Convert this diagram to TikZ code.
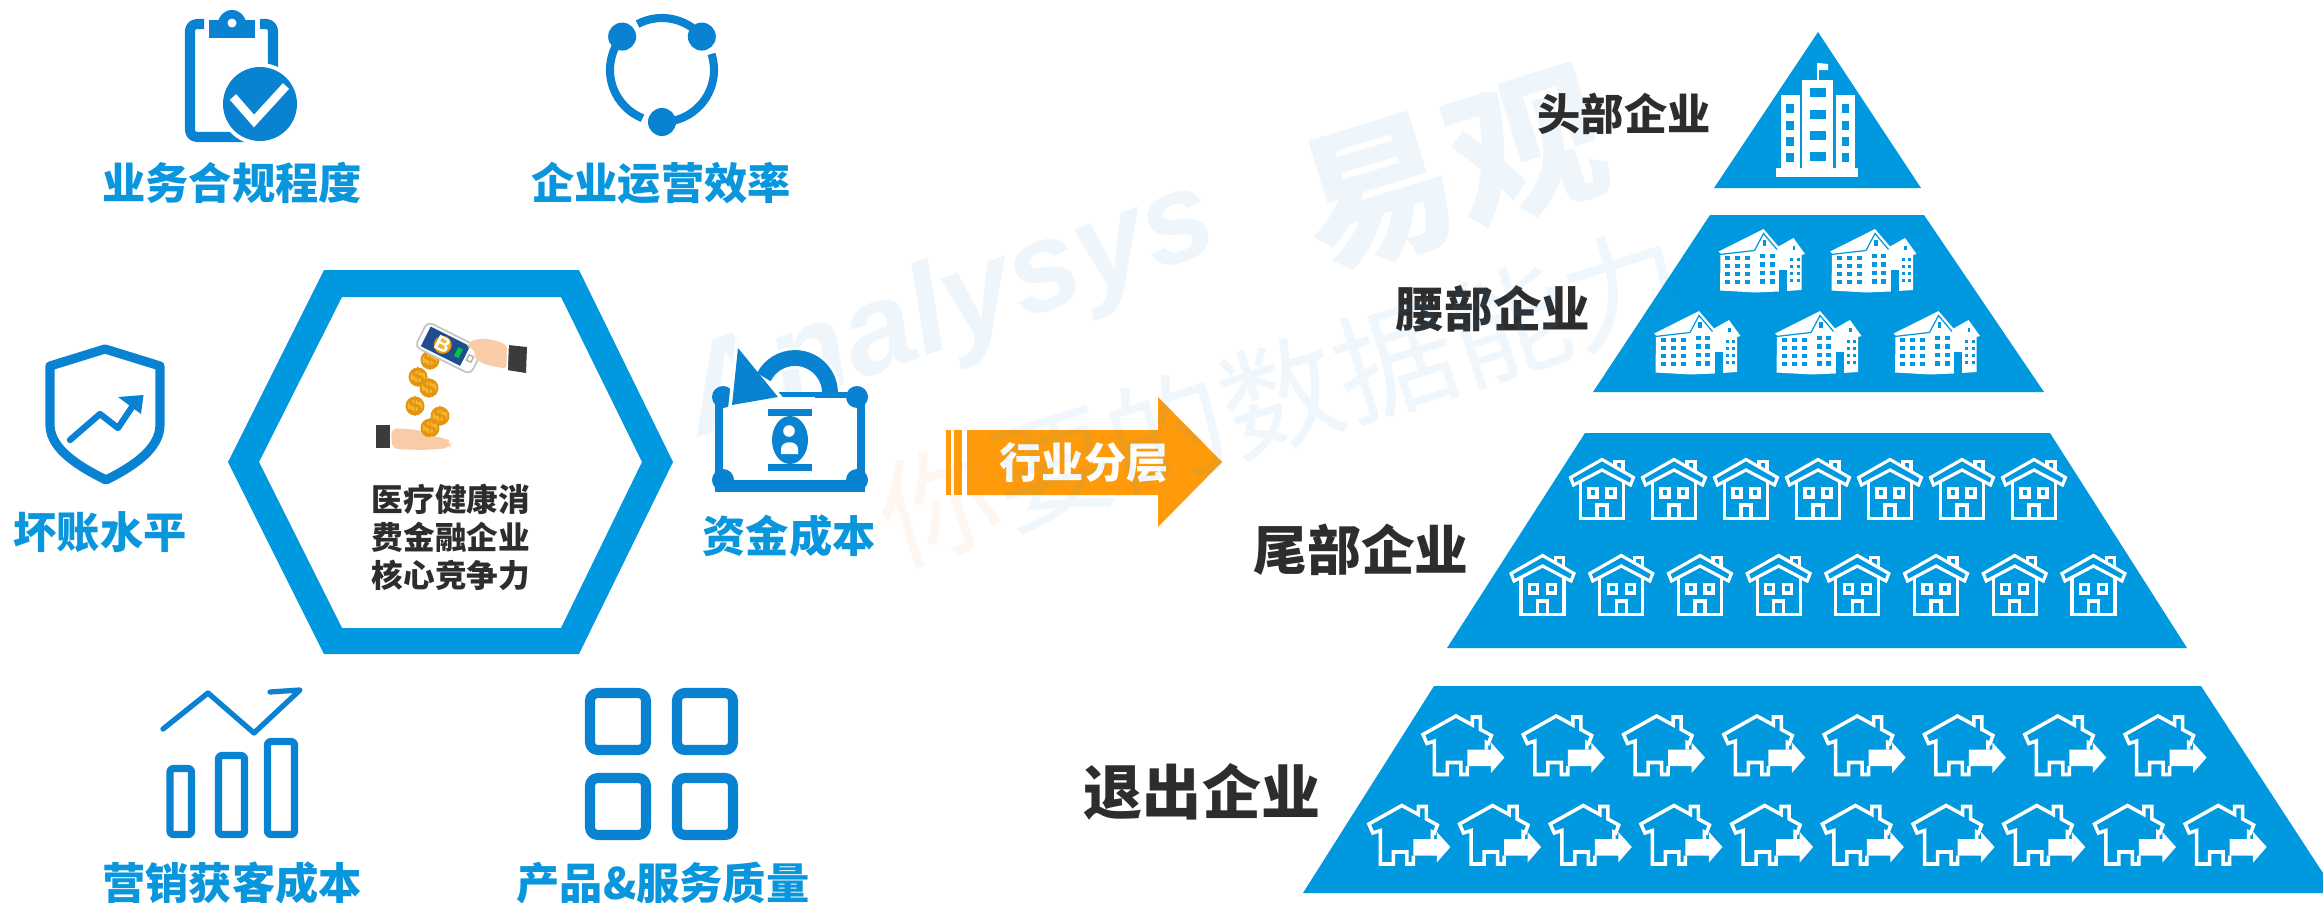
\documentclass[tikz,border=0pt]{standalone}
\usepackage{fontspec}
\newfontfamily\cjk{Noto Sans CJK SC}
\newfontfamily\latinwm{Liberation Sans}
\usetikzlibrary{calc}
\definecolor{hexblue}{HTML}{0098DF}
\definecolor{iconblue}{HTML}{0A82D2}
\definecolor{labelblue}{HTML}{0A96DC}
\definecolor{darktext}{HTML}{2D2D2D}
\definecolor{arroworange}{HTML}{FF9B0A}
\definecolor{skin}{HTML}{F9CBA7}
\definecolor{cuff}{HTML}{3A3B3D}
\definecolor{coin}{HTML}{F7B52C}
\definecolor{coinedge}{HTML}{E39410}
\definecolor{screen}{HTML}{1E4E8E}
\definecolor{wmblue}{HTML}{3C9BDC}
\definecolor{wmorange}{HTML}{F39A55}
\tikzset{
  lbl/.style={font=\cjk\bfseries\fontsize{12.3pt}{14pt}\selectfont, text=labelblue, inner sep=0pt},
  tier/.style={font=\cjk\bfseries\fontsize{#1}{#1}\selectfont, text=darktext, inner sep=0pt},
  iconline/.style={draw=iconblue, line width=#1, line join=round, line cap=round},
  coinpic/.pic={
    \fill[coinedge] (0,0) circle[radius=9.5];
    \fill[coin] (0,0) circle[radius=7.5];
    \node[font=\latinwm\bfseries\fontsize{7pt}{7pt}\selectfont, text=coinedge, inner sep=0pt] {\$};
  },
  apt/.pic={
    \fill[white] (-43,-9) -- (-3,-29) -- (2,-31.5) -- (17,-14) -- (32,-22.5) -- (43.5,-6.5) -- (40,-5.5)
      -- (40,29.5) -- (17,31) -- (-6.5,32) -- (-41.5,30) -- (-41,-7) -- cycle;
    \draw[hexblue, line width=0.35pt] (-7,-10) -- (2,-27) -- (15.5,-11);
    \draw[hexblue, line width=0.35pt] (-42,-6) -- (-7,-10);
    \foreach \x in {-36.5,-26.5,-16.5}
      \foreach \y in {-5,3,11,19}
        \fill[hexblue] (\x,\y) rectangle ++(5,4.5);
    \foreach \x in {-1.5,8}
      \foreach \y in {-7,1.5,10,18.5}
        \fill[hexblue] (\x,\y) rectangle ++(5,4.5);
    \foreach \x in {28.5,35}
      \foreach \y in {-3,4,11,18}
        \fill[hexblue] (\x,\y) rectangle ++(3,3.5);
    \fill[hexblue] (17.5,9.5) rectangle (25.5,31.5);
    \fill[hexblue] (1,-21) rectangle (4.5,-15);
    \fill[hexblue] (31,-14.5) rectangle (33.5,-10.5);
  },
  house/.pic={
    \draw[white, line width=0.9pt, line join=miter]
      (-31.5,-11) -- (0,-29) -- (31.5,-11) -- (28.5,-3.5) -- (0,-18.5) -- (-28.5,-3.5) -- cycle;
    \draw[white, line width=0.9pt] (13,-21.5) -- (13,-27) -- (21,-27) -- (21,-16.5);
    \draw[white, line width=0.9pt] (-21.5,-7) -- (-21.5,30) -- (21.5,30) -- (21.5,-7);
    \draw[white, line width=0.9pt] (-13,0) rectangle (-5,8.5) (5,0) rectangle (13,8.5);
    \draw[white, line width=0.9pt] (-5,30) -- (-5,16.5) -- (5,16.5) -- (5,30);
  },
  exith/.pic={
    \draw[white, line width=1pt, line join=miter]
      (3.5,20.5) -- (3.5,29) -- (-3,29) -- (-3,17) -- (-16.5,17) -- (-16.5,29) -- (-29.5,29)
      -- (-29.5,-4.5) -- (-37,-2) -- (-41,-11) -- (-8,-29.5) -- (8.5,-20.5) -- (8.5,-28.5)
      -- (16.5,-28.5) -- (16.5,-16) -- (27.5,-10) -- (24.5,-2) -- (22.5,-3) -- (22.5,4);
    \fill[white] (3.5,4) -- (27,4) -- (27,-3) -- (40.5,12) -- (27,27.5) -- (27,20.5) -- (3.5,20.5) -- cycle;
  }
}
\begin{document}
\begin{tikzpicture}[x=0.01cm, y=-0.01cm]
\useasboundingbox (0,0) rectangle (2323,903);
\clip (0,0) rectangle (2323,903);
\fill[white] (0,0) rectangle (2323,903);

% ---------- faint brand marks (behind the drawing) ----------
\begin{scope}[opacity=0.085]
  \node[rotate=20, font=\latinwm\bfseries\itshape\fontsize{36pt}{36pt}\selectfont, text=wmblue, inner sep=0pt]
    (brand) at (950,312) {Analysys};
  \node[rotate=17, font=\cjk\bfseries\fontsize{44pt}{44pt}\selectfont, text=wmblue, inner sep=0pt]
    (brandcn) at (1452,172) {易观};
\end{scope}

% ---------- central hexagon ----------
\fill[hexblue, even odd rule]
  (324,270) -- (579,270) -- (673,462) -- (579,654) -- (324,654) -- (228,462) -- cycle
  (342,297) -- (561,297) -- (642,462) -- (561,628) -- (342,628) -- (259,462) -- cycle;

% money illustration: coins, phone and hands
\pic at (430,360) {coinpic};
\begin{scope}[shift={(449,348)}, rotate=-26.6]
  \fill[white, draw=gray!45, line width=0.5pt, rounded corners=1.5pt] (-31,-14) rectangle (31,14);
  \fill[screen] (-26,-11) rectangle (18,11);
  \fill[coinedge] (-7,0) circle[radius=9];
  \fill[coin] (-7,0) circle[radius=7.2];
  \node[font=\latinwm\bfseries\fontsize{6pt}{6pt}\selectfont, text=white, inner sep=0pt, rotate=-26.6] (btc) at (-7,0) {B};
  \fill[green!55!teal] (8,-5) rectangle (13,5);
  \draw[gray!60, line width=0.4pt] (21,-3) rectangle (26,3);
\end{scope}
\fill[skin, rounded corners=2pt] (466,343) -- (480,338) -- (495,340) -- (509,346) -- (509,369) -- (496,367)
  -- (483,364) -- (472,357) -- (478,351) -- (469,349) -- cycle;
\fill[cuff] (508,345) -- (527,347) -- (526,373) -- (507,370) -- cycle;
\draw[white, line width=0.5pt] (508,345) -- (507,370);
\pic at (418,377) {coinpic};
\pic at (429,388) {coinpic};
\pic at (415,406) {coinpic};
\pic at (440,416) {coinpic};
\fill[cuff] (376,425) rectangle (390,448);
\fill[skin, rounded corners=2pt] (391,428) -- (420,430) -- (434,437) -- (446,438) -- (452,443) -- (450,448)
  -- (425,450) -- (392,449) -- cycle;
\pic at (430,428) {coinpic};
\fill[skin, rounded corners=1.5pt] (426,436) -- (440,437) -- (441,441) -- (428,442) -- cycle;

\node[font=\cjk\bfseries\fontsize{9pt}{10.8pt}\selectfont, text=darktext, align=center, inner sep=0pt]
  (core) at (451,537) {医疗健康消\\费金融企业\\核心竞争力};

% ---------- clipboard icon ----------
\draw[iconline=2.85pt, line cap=butt, rounded corners=2pt]
  (204,24) -- (190,24) -- (190,137) -- (273,137) -- (273,24) -- (260,24);
\fill[iconblue] (209,20) rectangle (255,38);
\fill[iconblue] (232,24) circle[radius=14];
\fill[white] (232,23) circle[radius=4.5];
\fill[white] (260,104) circle[radius=41];
\fill[iconblue] (260,104) circle[radius=37];
\draw[white, line width=2.4pt, line join=miter] (233,97) -- (254,121) -- (286,86);
\node[lbl] (compliance) at (232,183) {业务合规程度};

% ---------- cycle icon ----------
\draw[iconline=2.3pt, line cap=butt] (662,70) ++(242:52) arc[start angle=242, end angle=320, radius=52];
\draw[iconline=2.3pt, line cap=butt] (662,70) ++(342:52) arc[start angle=342, end angle=450, radius=52];
\draw[iconline=2.3pt, line cap=butt] (662,70) ++(220:52) arc[start angle=220, end angle=112, radius=52];
\fill[iconblue] (662,70) ++(220:52) circle[radius=14];
\fill[iconblue] (662,70) ++(320:52) circle[radius=14];
\fill[iconblue] (662,70) ++(90:52) circle[radius=14];
\node[lbl] (efficiency) at (661,183) {企业运营效率};

% ---------- shield icon ----------
\draw[iconline=2.6pt] (105,349) -- (160,366) -- (160,425) .. controls (160,450) and (130,468) .. (106,480)
  .. controls (82,468) and (50,450) .. (50,425) -- (50,366) -- cycle;
\draw[iconline=1.8pt] (70,440) -- (100,414) -- (118,428) -- (134,404);
\fill[iconblue] (118,397) -- (143.5,395) -- (141,414) -- cycle;
\node[lbl] (baddebt) at (100,532) {坏账水平};

% ---------- bill icon ----------
\fill[iconblue] (715,392) rectangle (865,492);
\fill[white] (723,397) rectangle (857,480);
\foreach \cx/\cy in {723/397, 857/397, 723/480, 857/480}
  \fill[iconblue] (\cx,\cy) circle[radius=11];
\fill[iconblue] (768,409) rectangle (812,416);
\fill[iconblue] (768,464) rectangle (812,471);
\fill[iconblue] (790,440) ellipse[x radius=18, y radius=24];
\fill[white] (789,431) circle[radius=5.8];
\fill[white] (781,454) -- (781,449) .. controls (781,440) and (798,440) .. (798,449) -- (798,454) -- cycle;
\draw[white, line width=2pt, line join=miter] (738,348) -- (732,405) -- (778,397) -- cycle;
\draw[white, line width=6pt] (830,393) arc[start angle=0, end angle=-150, radius=35];
\draw[iconblue, line width=4.5pt] (830,393) arc[start angle=0, end angle=-153, radius=35];
\fill[iconblue] (738,348) -- (732,405) -- (778,397) -- cycle;
\fill[iconblue] (815,392) rectangle (846,398);
\node[lbl] (funding) at (789,536) {资金成本};

% ---------- bar chart icon ----------
\draw[iconline=1.5pt] (163,729) -- (208,693) -- (254,733) -- (300,690) -- (270,692);
\draw[iconline=2pt, line cap=butt, rounded corners=0.8pt] (170,768.5) rectangle (191.5,834.5);
\draw[iconline=2pt, line cap=butt, rounded corners=0.8pt] (218.5,755.5) rectangle (244.5,834.5);
\draw[iconline=2pt, line cap=butt, rounded corners=0.8pt] (267.5,741.5) rectangle (294.5,834.5);
\node[lbl] (marketing) at (232,883) {营销获客成本};

% ---------- grid icon ----------
\foreach \gx/\gy in {590/693, 677/693, 590/778, 677/778}
  \draw[iconline=2.85pt, rounded corners=2.2pt] (\gx,\gy) rectangle ++(56,57);
\node[lbl] (quality) at (663,883) {产品\&服务质量};

% ---------- orange arrow ----------
\fill[arroworange] (946,430) rectangle (951,495);
\fill[arroworange] (954,430) rectangle (962,495);
\fill[arroworange] (967,430) -- (1158,430) -- (1158,397) -- (1222,462) -- (1158,527) -- (1158,495) -- (967,495) -- cycle;
\node[font=\cjk\bfseries\fontsize{12pt}{12pt}\selectfont, text=white, inner sep=0pt] (layering) at (1084,463) {行业分层};

% ---------- pyramid ----------
\fill[hexblue] (1818,32) -- (1921,188) -- (1714,188) -- cycle;
\fill[hexblue] (1710,215) -- (1924,215) -- (2044,392) -- (1593,392) -- cycle;
\fill[hexblue] (1585,433) -- (2050,433) -- (2187,648) -- (1447,648) -- cycle;
\fill[hexblue] (1434,686) -- (2201,686) -- (2336,893) -- (1303,893) -- cycle;

% head tier: office tower
\fill[white] (1776,168) rectangle (1858,177);
\fill[white] (1802,80) rectangle (1833,169);
\fill[white] (1781,95) rectangle (1800,169);
\fill[white] (1836,95) rectangle (1855,169);
\draw[white, line width=0.6pt] (1818,81) -- (1818,63);
\fill[white] (1818,63) -- (1828,64) -- (1828,70) -- (1818,70) -- cycle;
\foreach \wy in {88,110,131,152}
  \fill[hexblue] (1810,\wy) rectangle ++(16,8.5);
\foreach \wy in {104,121,137,153}
  {\fill[hexblue] (1786,\wy) rectangle ++(8,9);
   \fill[hexblue] (1842,\wy) rectangle ++(7,9);}

% waist tier: apartment blocks
\pic at (1761.5,260.5) {apt};
\pic at (1873,260.5) {apt};
\pic at (1697,342.5) {apt};
\pic at (1818,342.5) {apt};
\pic at (1936.5,342.5) {apt};

% tail tier: houses
\foreach \i in {0,...,6}
  \pic at ({1818+(\i-3)*72},488.5) {house};
\foreach \i in {0,...,7}
  \pic at ({1818+(\i-3.5)*78.7},584.5) {house};

% exiting tier: houses with arrows
\foreach \i in {0,...,7}
  \pic at ({1815+(\i-3.5)*100.3},745.5) {exith};
\foreach \i in {0,...,9}
  \pic at ({1818+(\i-4.5)*90.7},835) {exith};

% tier labels
\node[tier=12.3pt] (head) at (1624,114) {头部企业};
\node[tier=13.8pt] (waist) at (1493,309) {腰部企业};
\node[tier=15.3pt] (tail) at (1361,550) {尾部企业};
\node[tier=16.8pt] (exit) at (1202,792) {退出企业};

% ---------- faint slogan, laid over the arrow ----------
\begin{scope}[opacity=0.08]
  \node[rotate=17.5, font=\cjk\fontsize{34pt}{34pt}\selectfont, text=wmblue, inner sep=0pt]
    (slogan) at (1281,396) {\textcolor{wmorange}{你}要的数据能力};
\end{scope}
\end{tikzpicture}
\end{document}
